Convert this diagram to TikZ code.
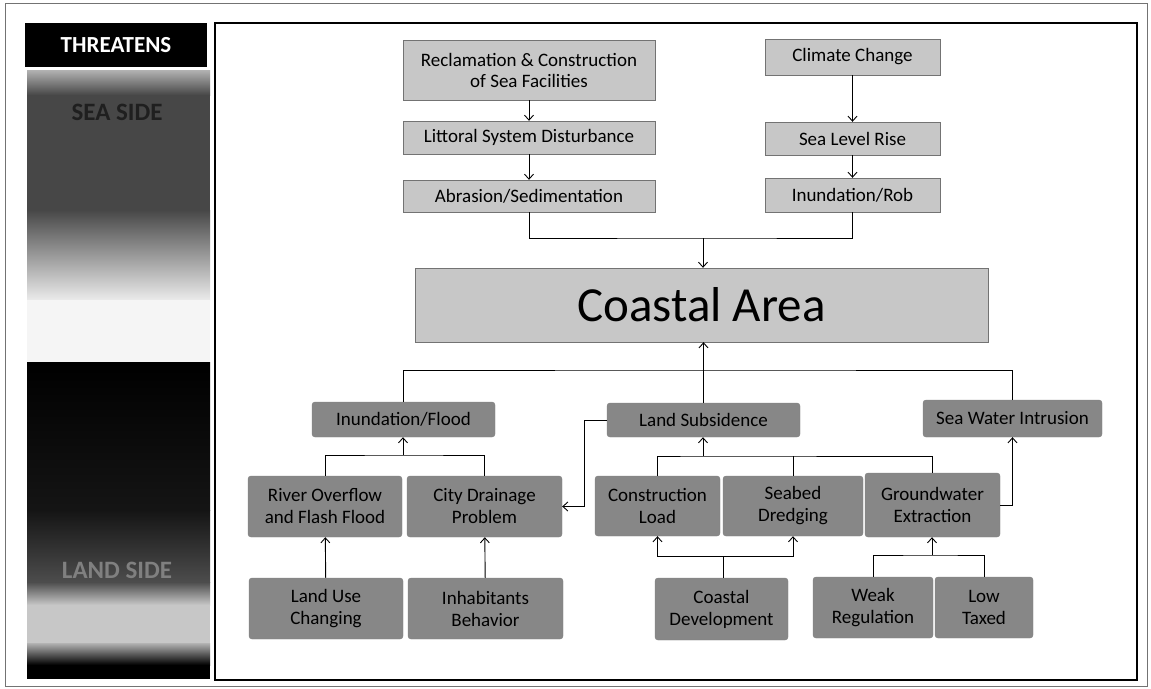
\documentclass[tikz,border=0pt]{standalone}
\usepackage{fontspec}
\setmainfont{Carlito}
\usetikzlibrary{arrows.meta}

\begin{document}
\begin{tikzpicture}[x=1pt,y=-1pt,
    >={Straight Barb[length=5pt,width=9pt]},
    seabox/.style={draw=black!55,fill=black!22,align=center,inner sep=0pt,
      font=\fontsize{19}{21}\selectfont},
    landbox/.style={draw=black!50,fill=black!47,rounded corners=3pt,align=center,inner sep=0pt,
      font=\fontsize{19}{22}\selectfont},
    link/.style={line width=0.9pt}]
                \useasboundingbox (0,0) rectangle (1151,688);
                \draw [black!55,thin] (5,3) rectangle (1147,686);
                % left column
                \node [fill=black,text=white,minimum width=182,minimum height=44,inner sep=0pt,
                  font=\bfseries\fontsize{23}{28}\selectfont] (threat) at (116,45) {THREATENS};
                \shade [top color=black!30,bottom color=black!72] (27,70) rectangle (210,95);
                \fill [black!72] (27,95) rectangle (210,210);
                \shade [top color=black!72,bottom color=black!8] (27,210) rectangle (210,300);
                \fill [black!4] (27,300) rectangle (210,362);
                \shade [top color=black,bottom color=black!92] (27,362) rectangle (210,510);
                \shade [top color=black!92,bottom color=black!70] (27,510) rectangle (210,582);
                \shade [top color=black!70,bottom color=black!22] (27,582) rectangle (210,605);
                \fill [black!22] (27,605) rectangle (210,643);
                \shade [top color=black!30,bottom color=black] (27,643) rectangle (210,665);
                \fill [black] (27,665) rectangle (210,679);
                \node [text=black!88,font=\bfseries\fontsize{25}{28}\selectfont] (seaside) at (117,112) {SEA SIDE};
                \node [text=black!50,font=\bfseries\fontsize{25}{28}\selectfont] (landside) at (117,570) {LAND SIDE};
                % frame
                \draw [line width=1.6pt] (215,23) rectangle (1137,680);
                % sea side
                \node [seabox,minimum width=252,minimum height=60] (recl) at (529,70) {Reclamation \& Construction\\of Sea Facilities};
                \node [seabox,minimum width=252,minimum height=33] (litt) at (529,137.5) {Littoral System Disturbance};
                \node [seabox,minimum width=252,minimum height=32] (abr) at (529,196) {Abrasion/Sedimentation};
                \node [seabox,minimum width=175,minimum height=36] (clim) at (852.5,57) {Climate Change};
                \node [seabox,minimum width=175,minimum height=33] (slr) at (852.5,138.5) {Sea Level Rise};
                \node [seabox,minimum width=175,minimum height=34] (rob) at (852.5,195) {Inundation/Rob};
                \node [seabox,minimum width=573,minimum height=74,font=\fontsize{49}{52}\selectfont] (coast) at (701.5,305) {Coastal Area};
                \coordinate (seajoin) at (703,238);
                \draw [link,->] (recl) -- (litt);
                \draw [link,->] (litt) -- (abr);
                \draw [link,->] (clim) -- (slr);
                \draw [link,->] (slr) -- (rob);
                \draw [link] (abr.south) |- (seajoin) -| (rob.south);
                \draw [link,->] (seajoin) -- (seajoin |- coast.north);
                % land side
                \node [landbox,minimum width=183,minimum height=35] (iflood) at (403.5,419.5) {Inundation/Flood};
                \node [landbox,minimum width=193,minimum height=34] (lsub) at (703.5,420) {Land Subsidence};
                \node [landbox,minimum width=179,minimum height=37] (swi) at (1012.5,418.5) {Sea Water Intrusion};
                \node [landbox,minimum width=154,minimum height=61] (river) at (325,506.5) {River Overflow\\and Flash Flood};
                \node [landbox,minimum width=155,minimum height=61] (drain) at (484.5,506.5) {City Drainage\\Problem};
                \node [landbox,minimum width=125,minimum height=60] (cload) at (657.5,506) {Construction\\Load};
                \node [landbox,minimum width=140,minimum height=60] (dredge) at (793,506) {Seabed\\Dredging};
                \node [landbox,minimum width=135,minimum height=64] (gwater) at (932.5,505) {Groundwater\\Extraction};
                \node [landbox,minimum width=154,minimum height=61] (landuse) at (326,608.5) {Land Use\\Changing};
                \node [landbox,minimum width=155,minimum height=61] (inhab) at (485.5,608.5) {Inhabitants\\Behavior};
                \node [landbox,minimum width=133,minimum height=62] (cdev) at (721.5,609) {Coastal\\Development};
                \node [landbox,minimum width=120,minimum height=61] (weak) at (873,607.5) {Weak\\Regulation};
                \node [landbox,minimum width=98,minimum height=61] (lowtax) at (984,607.5) {Low\\Taxed};
                \coordinate (landjoin) at (703,370);
                \coordinate (floodjoin) at (403,455);
                \coordinate (subjoin) at (703,456);
                \coordinate (devjoin) at (723,556);
                \coordinate (taxjoin) at (932,555);
                \draw [link,->] (lsub.north) -- (lsub.north |- coast.south);
                \draw [link] (iflood.north) |- (landjoin) -| (swi.north);
                \draw [link] (river.north) |- (floodjoin) -| (drain.north);
                \draw [link,->] (floodjoin) -- (floodjoin |- iflood.south);
                \draw [link,->] (lsub.west) -- ++(-22,0) |- (drain.east);
                \draw [link] (cload.north) |- (subjoin) -| (gwater.north);
                \draw [link] (dredge.north) -- (dredge.north |- subjoin);
                \draw [link,->] (subjoin) -- (subjoin |- lsub.south);
                \draw [link,->] (gwater.east) -| (swi.south);
                \draw [link] (devjoin |- cdev.north) -- (devjoin);
                \draw [link,->] (devjoin) -| (cload.south);
                \draw [link,->] (devjoin) -| (dredge.south);
                \draw [link,->] (landuse) -- (river);
                \draw [link,->] (inhab) -- (drain);
                \draw [link] (weak.north) |- (taxjoin) -| (lowtax.north);
                \draw [link,->] (taxjoin) -- (taxjoin |- gwater.south);
            \end{tikzpicture}
\end{document}
